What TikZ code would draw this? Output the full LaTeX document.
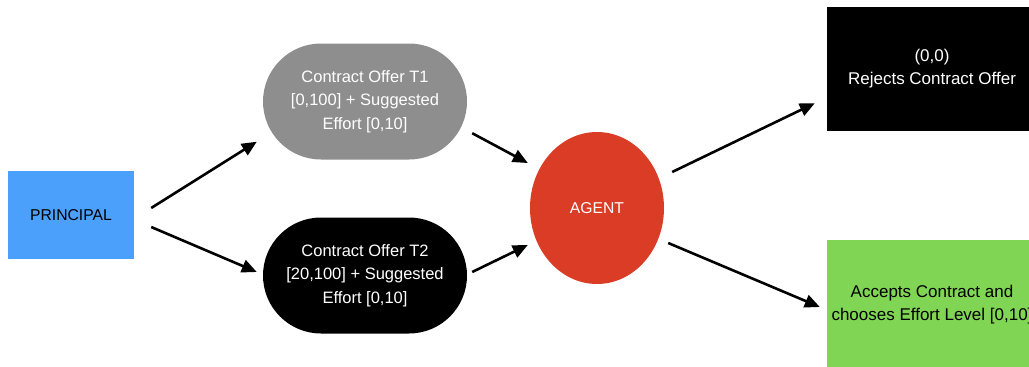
\documentclass[tikz,border=0pt]{standalone}
\usepackage{fontspec}
\setmainfont{Liberation Sans}
\usepackage{tikz}
\usetikzlibrary{shapes.geometric,arrows.meta}
\definecolor{princblue}{RGB}{74, 160, 250}
\definecolor{offergray}{RGB}{142, 142, 142}
\definecolor{agentred}{RGB}{218, 60, 38}
\definecolor{acceptgreen}{RGB}{128, 214, 84}

\begin{document}
\begin{tikzpicture}[
      x=1pt, y=-1pt,
      prin/.style={rectangle, fill=princblue, minimum width=126pt,
                   minimum height=88pt, inner sep=0pt,
                   font=\fontsize{15.7}{20}\selectfont, text=black},
      offer/.style={rectangle, rounded corners=58pt, minimum width=204pt,
                    minimum height=116pt, inner sep=0pt, align=center,
                    font=\fontsize{16.5}{23.5}\selectfont, text=white},
      agt/.style={ellipse, fill=agentred, minimum width=134pt,
                  minimum height=152pt, inner sep=0pt,
                  font=\fontsize{15.7}{20}\selectfont, text=white},
      outc/.style={rectangle, minimum width=210pt, inner sep=0pt,
                   align=center, font=\fontsize{17}{23}\selectfont},
      arr/.style={line width=2.6pt, -{Triangle[length=15pt,width=13pt]}},
    ]
    \useasboundingbox (0,0) rectangle (1029,367);

    %% players and offers
    \node[prin] (prin) at (71,215) {PRINCIPAL};
    \node[offer, fill=offergray] (t1) at (365,101.5)
      {Contract Offer T1\\{}[0,100] + Suggested\\ Effort [0,10]};
    \node[offer, fill=black] (t2) at (365,275.5)
      {Contract Offer T2\\{}[20,100] + Suggested\\ Effort [0,10]};
    \node[agt] (agt) at (597,208) {AGENT};

    %% outcomes (run off the right edge)
    \node[outc, fill=black, text=white, minimum height=124pt] (rej) at (932,69)
      {(0,0)\\ Rejects Contract Offer};
    \node[outc, fill=acceptgreen, text=black, minimum height=130pt] (acc) at (932,305)
      {Accepts Contract and\\ chooses Effort Level [0,10]};

    %% arrows
    \draw[arr] ([xshift=17pt, yshift=7pt]prin.east)
      -- ([xshift=-6pt, yshift=18pt]t1.south west);
    \draw[arr] ([xshift=17pt, yshift=-12pt]prin.east)
      -- ([xshift=-6pt, yshift=3.5pt]t2.west);
    \draw[arr] ([xshift=5pt, yshift=26.5pt]t1.south east)
      -- ([xshift=-2pt, yshift=45pt]agt.west);
    \draw[arr] ([xshift=5pt, yshift=3.5pt]t2.east)
      -- ([xshift=-2pt, yshift=-37pt]agt.west);
    \draw[arr] ([xshift=8pt, yshift=36pt]agt.east)
      -- ([xshift=-12pt, yshift=28pt]rej.south west);
    \draw[arr] ([xshift=4pt, yshift=-35pt]agt.east)
      -- ([xshift=-7pt, yshift=-2pt]acc.west);
\end{tikzpicture}
\end{document}
